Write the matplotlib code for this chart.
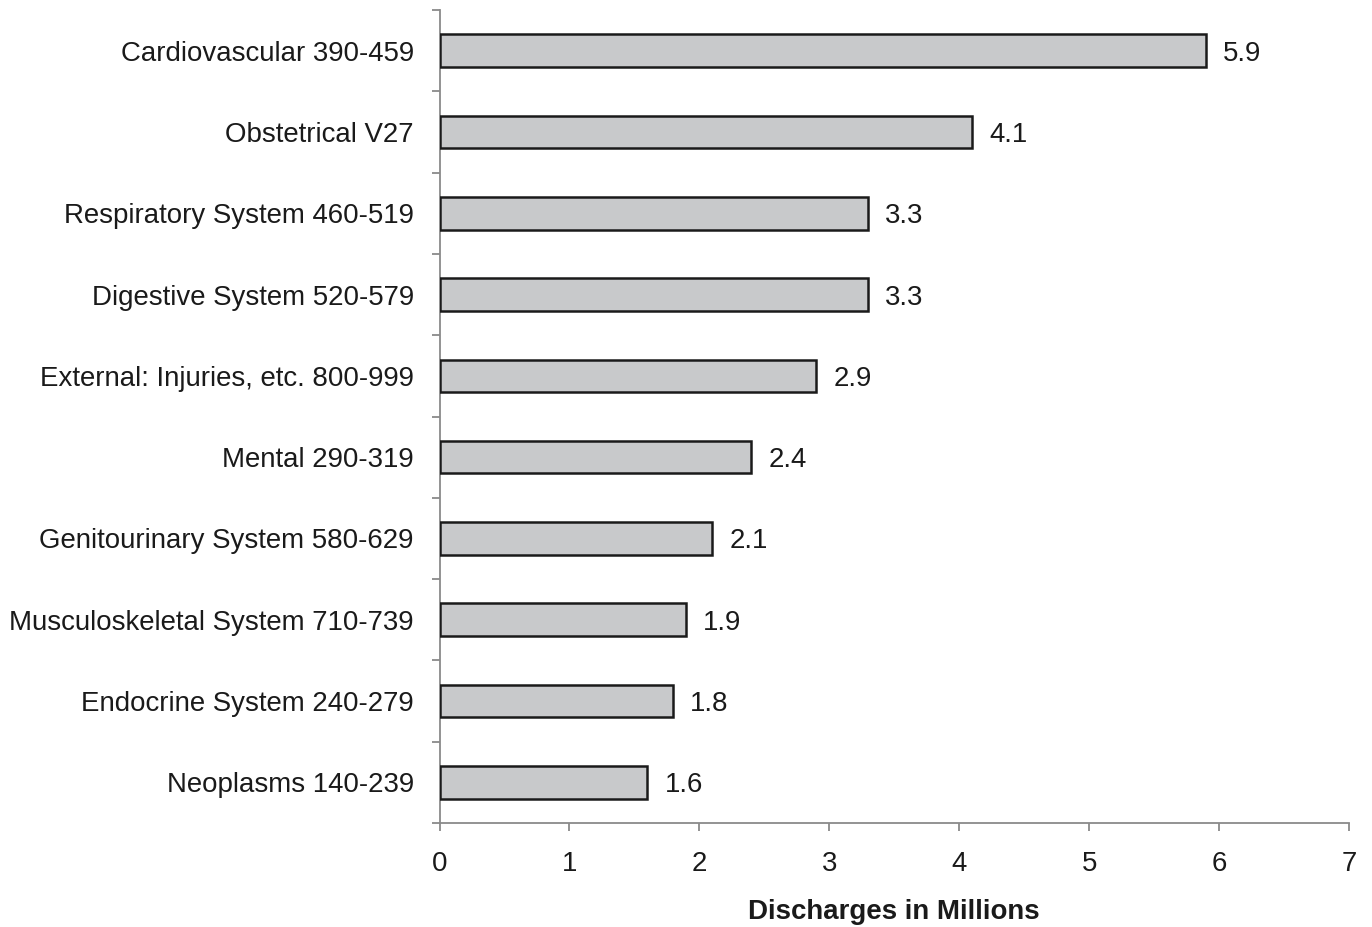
import matplotlib
matplotlib.use("Agg")
import matplotlib.pyplot as plt
import numpy as np

categories = ["Cardiovascular 390-459", "Obstetrical V27", "Respiratory System 460-519",
              "Digestive System 520-579", "External: Injuries, etc. 800-999", "Mental 290-319",
              "Genitourinary System 580-629", "Musculoskeletal System 710-739",
              "Endocrine System 240-279", "Neoplasms 140-239"]
values = [5.9, 4.1, 3.3, 3.3, 2.9, 2.4, 2.1, 1.9, 1.8, 1.6]
x_ticks = [0, 1, 2, 3, 4, 5, 6, 7]
x_label = "Discharges in Millions"

plt.rcParams['font.family'] = ['Liberation Sans', 'DejaVu Sans']
FS = 19.9

fig = plt.figure(figsize=(13.72, 9.27), dpi=100)
ax = fig.add_axes([439.5/1372, 1 - 823/927, (1349-439.5)/1372, (823-10)/927])

n = len(categories)
y = np.arange(n)
ax.barh(y, values, height=0.4, color="#c8c9cb", edgecolor="#1a1a1a", linewidth=1.8, zorder=3)
for yi, v in zip(y, values):
    ax.annotate(f"{v:.1f}", xy=(v, yi), xytext=(17, 0), textcoords="offset pixels",
                ha="left", va="center_baseline", fontsize=FS, color="#1a1a1a")

ax.set_ylim(n - 0.5, -0.5)
ax.set_xlim(0, 7)
ax.set_yticks(y)
ax.set_yticklabels(categories, fontsize=FS, color="#1a1a1a", va="center_baseline")
ax.set_yticks(np.arange(-0.5, n + 0.5, 1), minor=True)
ax.tick_params(axis="y", which="major", length=0, pad=18.5)
ax.tick_params(axis="y", which="minor", length=6, width=1.3, color="#8a8a8a", direction="out")
ax.set_xticks(x_ticks)
ax.set_xticklabels([str(t) for t in x_ticks], fontsize=FS, color="#1a1a1a")
ax.tick_params(axis="x", which="major", length=6, width=1.3, color="#8a8a8a", pad=14)

for s in ["top", "right"]:
    ax.spines[s].set_visible(False)
for s in ["left", "bottom"]:
    ax.spines[s].set_color("#8a8a8a")
    ax.spines[s].set_linewidth(1.3)

ax.set_xlabel(x_label, fontsize=FS, fontweight="bold", color="#1a1a1a", labelpad=16)

fig.savefig("out.png", dpi=100)
